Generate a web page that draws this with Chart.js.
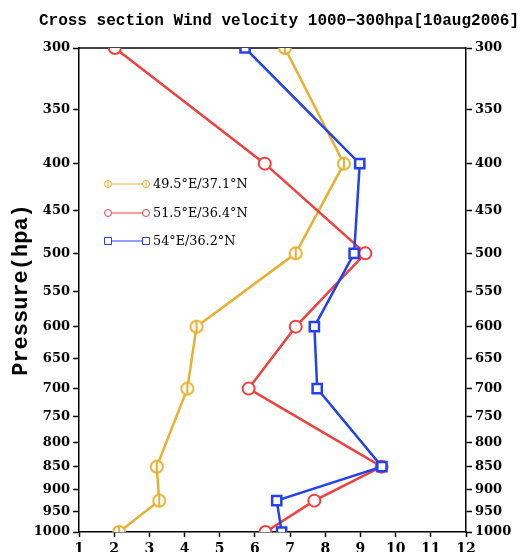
<!DOCTYPE html>
<html>
<head>
<meta charset="utf-8">
<script src="https://cdn.jsdelivr.net/npm/chart.js@4/dist/chart.umd.min.js"></script>
<style>
  html, body { margin: 0; padding: 0; background: #fff; }
  canvas { display: block; }
</style>
</head>
<body>
<canvas id="canvasWind" width="520" height="552"></canvas>
<script>
// pressure levels (hpa) and wind speed at each station
var pressure = [300, 400, 500, 600, 700, 850, 925, 1000];
var speedA = [6.85, 8.53, 7.16, 4.34, 4.08, 3.21, 3.28, 2.14];
var speedB = [2.02, 6.28, 9.14, 7.16, 5.82, 9.60, 7.69, 6.30];
var speedC = [5.72, 8.98, 8.82, 7.69, 7.77, 9.61, 6.62, 6.76];
var labels = ['49.5°E/37.1°N', '51.5°E/36.4°N', '54°E/36.2°N'];
var yTicks = [300, 350, 400, 450, 500, 550, 600, 650, 700, 750, 800, 850, 900, 950, 1000];
var xTicks = [1, 2, 3, 4, 5, 6, 7, 8, 9, 10, 11, 12];
var titleText = 'Cross section Wind velocity 1000\u2212300hpa[10aug2006]';

var cYellow = '#e8b030';
var cRed = '#f04040';
var cBlue = '#2440f0';

// circle with a bar marker
function barCircle(col, r){
	var c = document.createElement('canvas');
	var s = Math.ceil(r * 2 + 4);
	c.width = s; c.height = s;
	var g = c.getContext('2d');
	g.fillStyle = '#fff';
	g.strokeStyle = col;
	g.lineWidth = 2;
	g.beginPath();
	g.arc(s / 2, s / 2, r, 0, Math.PI * 2);
	g.fill();
	g.stroke();
	g.beginPath();
	g.moveTo(s / 2, s / 2 - r);
	g.lineTo(s / 2, s / 2 + r);
	g.stroke();
	return c;
}

function toPoints(xs){
	var out = [];
	pressure.forEach(function(p, i){ out.push({x: xs[i], y: p}); });
	return out;
}

var datasets = [
	{ label: labels[0], data: toPoints(speedA), borderColor: cYellow, backgroundColor: '#fff',
	  borderWidth: 2.5, pointStyle: barCircle(cYellow, 6), order: 2 },
	{ label: labels[1], data: toPoints(speedB), borderColor: cRed, backgroundColor: '#fff',
	  borderWidth: 2.5, pointStyle: 'circle', pointRadius: 6, pointBorderWidth: 2, order: 1 },
	{ label: labels[2], data: toPoints(speedC), borderColor: cBlue, backgroundColor: '#fff',
	  borderWidth: 2.5, pointStyle: 'rect', pointRadius: 6.5, pointBorderWidth: 2.5, order: 0 }
];

function setTicks(scale){
	scale.ticks = yTicks.map(function(v){ return {value: v}; });
}

var framePlugin = {
	id: 'frame',
	beforeDatasetsDraw: function(chart){
		var a = chart.chartArea, ctx = chart.ctx;
		ctx.save();
		ctx.strokeStyle = '#000';
		ctx.lineWidth = 1.5;
		ctx.beginPath();
		ctx.moveTo(a.left, a.top);
		ctx.lineTo(a.right, a.top);
		ctx.stroke();
		ctx.restore();
	},
	afterDraw: function(chart){
		var ctx = chart.ctx;
		ctx.save();
		// title
		ctx.fillStyle = '#000';
		ctx.font = 'bold 16px "Liberation Mono"';
		ctx.textAlign = 'center';
		ctx.textBaseline = 'middle';
		ctx.fillText(titleText, 279, 21);
		// legend inside the plot
		var rows = [184, 213, 241];
		var x0 = 108, x1 = 146;
		ctx.font = '12.8px "DejaVu Serif"';
		ctx.textAlign = 'left';
		datasets.forEach(function(ds, i){
			var y = rows[i];
			ctx.strokeStyle = ds.borderColor;
			ctx.lineWidth = 1;
			ctx.beginPath();
			ctx.moveTo(x0, y); ctx.lineTo(x1, y);
			ctx.stroke();
			[x0, x1].forEach(function(x){
				ctx.beginPath();
				if (i == 2) {
					ctx.rect(x - 3.5, y - 3.5, 7, 7);
				} else {
					ctx.arc(x, y, 3.5, 0, Math.PI * 2);
				}
				ctx.fillStyle = '#fff';
				ctx.fill();
				ctx.stroke();
				if (i == 0) {
					ctx.beginPath();
					ctx.moveTo(x, y - 3.5); ctx.lineTo(x, y + 3.5);
					ctx.stroke();
				}
			});
			ctx.fillStyle = '#000';
			ctx.fillText(ds.label, 153, y + 1);
		});
		ctx.restore();
	}
};

var yCommon = {
	type: 'logarithmic',
	reverse: true,
	min: 300,
	max: 1000,
	afterBuildTicks: setTicks,
	border: { color: '#000', width: 1.5 },
	grid: { drawOnChartArea: false, drawTicks: true, tickLength: 6, tickColor: '#000', tickWidth: 1.5 },
	ticks: {
		autoSkip: false,
		color: '#000',
		padding: 3,
		font: { family: 'DejaVu Serif', size: 13, weight: 'bold' },
		callback: function(v){ return v; }
	}
};

var ctx = document.getElementById('canvasWind').getContext('2d');
window.myLine = new Chart(ctx, {
	type: 'line',
	data: { datasets: datasets },
	plugins: [framePlugin],
	options: {
		responsive: false,
		animation: false,
		maintainAspectRatio: false,
		layout: { padding: { top: 48, left: 0, right: 0, bottom: 0 } },
		plugins: { legend: { display: false }, title: { display: false }, tooltip: { enabled: false } },
		scales: {
			x: {
				type: 'linear',
				min: 1,
				max: 12,
				afterBuildTicks: function(scale){ scale.ticks = xTicks.map(function(v){ return {value: v}; }); },
				afterFit: function(scale){ scale.height = 20; },
				border: { color: '#000', width: 1.5 },
				grid: { drawOnChartArea: false, drawTicks: true, tickLength: 5, tickColor: '#000', tickWidth: 1.5 },
				ticks: {
					color: '#000',
					padding: 4,
					autoSkip: false,
					maxRotation: 0,
					font: { family: 'DejaVu Serif', size: 14, weight: 'bold' }
				}
			},
			y: Object.assign({}, yCommon, {
				position: 'left',
				afterFit: function(scale){ scale.width = 79; },
				title: {
					display: true,
					text: 'Pressure(hpa)',
					color: '#000',
					padding: { top: 8, bottom: 0 },
					font: { family: 'Liberation Mono', size: 22, weight: 'bold' }
				}
			}),
			y2: Object.assign({}, yCommon, {
				position: 'right',
				afterFit: function(scale){ scale.width = 54; }
			})
		}
	}
});
</script>
</body>
</html>
